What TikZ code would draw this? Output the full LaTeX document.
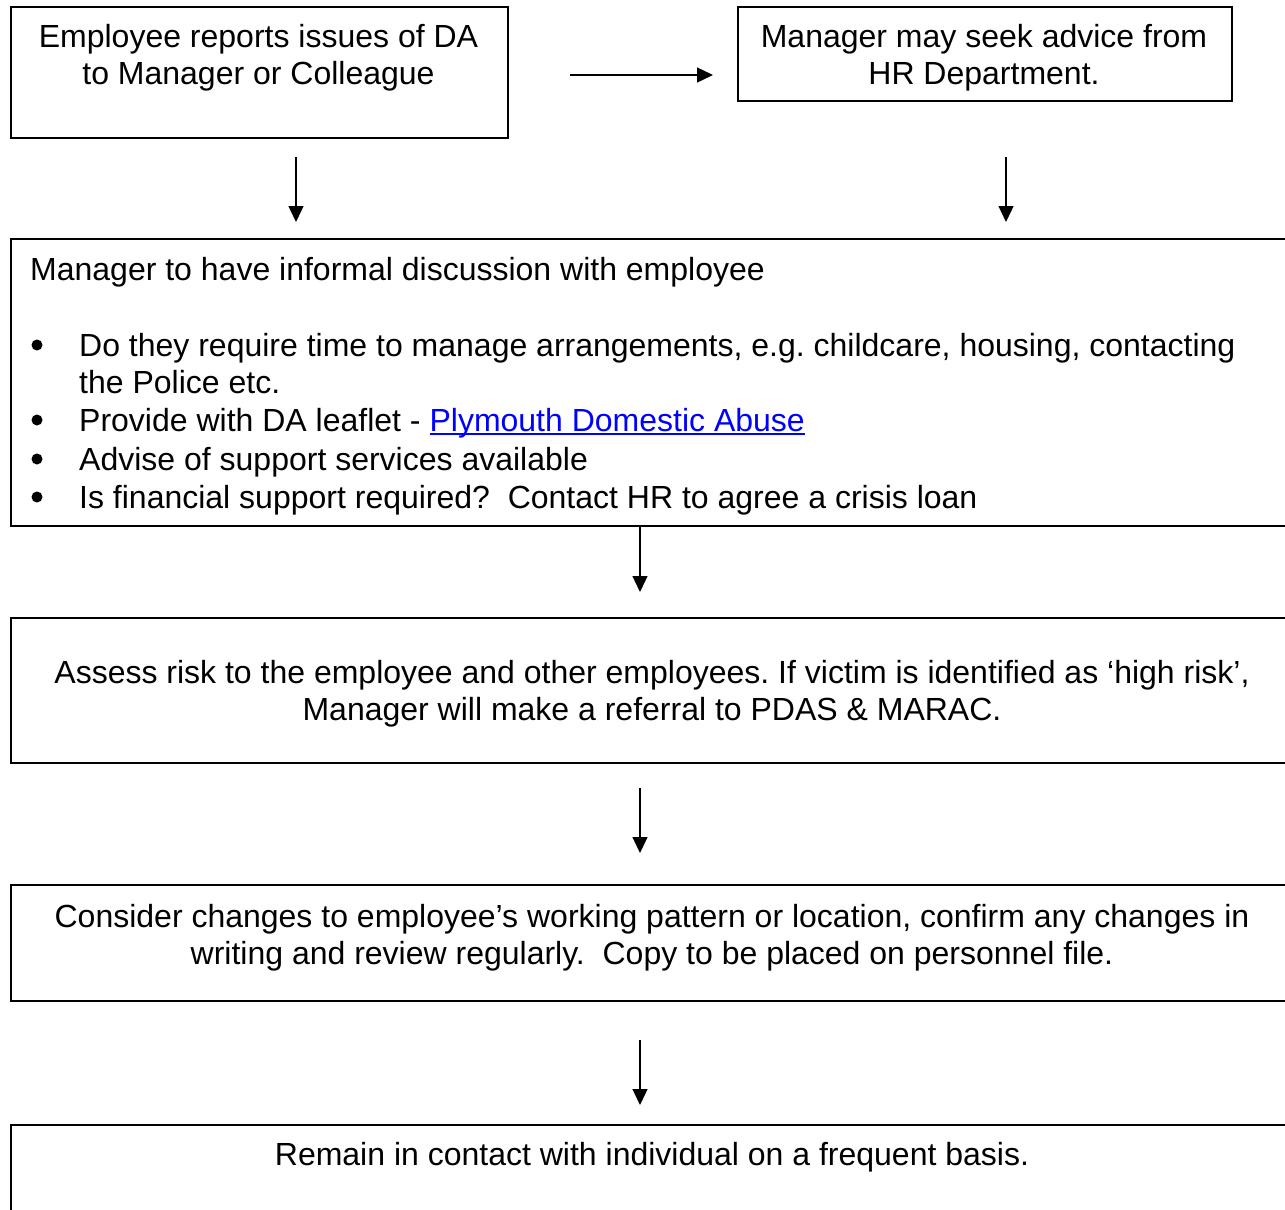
\documentclass[tikz,border=0pt]{standalone}
\usepackage{fontspec}
\setmainfont{Liberation Sans}
\usetikzlibrary{arrows.meta,calc}
\definecolor{linkblue}{RGB}{0,0,255}
\frenchspacing
% underlined hyperlink-style text
\newcommand\linkul[1]{\setbox0\hbox{#1}\rlap{\rule[-3.6pt]{\wd0}{1.8pt}}\box0}

\begin{document}
\begin{tikzpicture}[x=1pt,y=-1pt,
  box/.style={draw, line width=1.6pt, rectangle, inner sep=0pt, anchor=north west},
  txt/.style={font=\fontsize{32}{37}\selectfont, inner sep=0pt, anchor=base},
  ltxt/.style={txt, anchor=base west},
  bul/.style={circle, fill=black, inner sep=0pt, minimum size=11pt},
  flow/.style={line width=1.3pt, -{Triangle[length=16pt,width=15pt]}}]

\useasboundingbox (0,0) rectangle (1285,1210);
\clip (0,0) rectangle (1285,1210);

% boxes
\node[box, minimum width=497pt, minimum height=131pt] (empl) at (10,6) {};
\node[box, minimum width=494pt, minimum height=94pt] (hr) at (737,6) {};
\node[box, minimum width=1285pt, minimum height=287pt] (disc) at (10,238) {};
\node[box, minimum width=1285pt, minimum height=145pt] (risk) at (10,617) {};
\node[box, minimum width=1285pt, minimum height=116pt] (change) at (10,884) {};
\node[box, minimum width=1285pt, minimum height=150pt] (contact) at (10,1124) {};

% box texts
\node[txt] (empl1) at (258.5,47.5) {Employee reports issues of DA};
\node[txt] (empl2) at (258.5,84.5) {to Manager or Colleague};

\node[txt] (hr1) at (984,47.5) {Manager may seek advice from};
\node[txt] (hr2) at (984,84.5) {HR Department.};

\node[ltxt] (disc0) at (30,280) {Manager to have informal discussion with employee};
\node[bul] (bul1) at (37,345) {};
\node[ltxt] (disc1) at (79,356) {Do they require time to manage arrangements, e.g. childcare, housing, contacting};
\node[ltxt] (disc1b) at (79,393) {the Police etc.};
\node[bul] (bul2) at (37,420) {};
\node[ltxt] (disc2) at (79,431) {Provide with DA leaflet - \textcolor{linkblue}{\linkul{Plymouth Domestic Abuse}}};
\node[bul] (bul3) at (37,459) {};
\node[ltxt] (disc3) at (79,470) {Advise of support services available};
\node[bul] (bul4) at (37,497) {};
\node[ltxt] (disc4) at (79,508) {Is financial support required?\ \ Contact HR to agree a crisis loan};

\node[txt] (risk1) at (652,683) {Assess risk to the employee and other employees. If victim is identified as `high risk',};
\node[txt] (risk2) at (652,720) {Manager will make a referral to PDAS \& MARAC.};

\node[txt] (change1) at (652,927) {Consider changes to employee's working pattern or location, confirm any changes in};
\node[txt] (change2) at (652,964) {writing and review regularly.\ \ Copy to be placed on personnel file.};

\node[txt] (contact1) at (652,1165) {Remain in contact with individual on a frequent basis.};

% connector end points
\coordinate (h0) at (570,75);
\coordinate (h1) at (713,75);
\coordinate (l0) at (296,157);
\coordinate (l1) at (296,222);
\coordinate (r0) at (1006,157);
\coordinate (r1) at (1006,222);
\coordinate (c0) at (640,525);
\coordinate (c1) at (640,592);
\coordinate (d0) at (640,788);
\coordinate (d1) at (640,853);
\coordinate (e0) at (640,1040);
\coordinate (e1) at (640,1105);

% connectors
\draw[flow] (h0) -- (h1);
\draw[flow] (l0) -- (l1);
\draw[flow] (r0) -- (r1);
\draw[flow] (c0) -- (c1);
\draw[flow] (d0) -- (d1);
\draw[flow] (e0) -- (e1);
\end{tikzpicture}
\end{document}
